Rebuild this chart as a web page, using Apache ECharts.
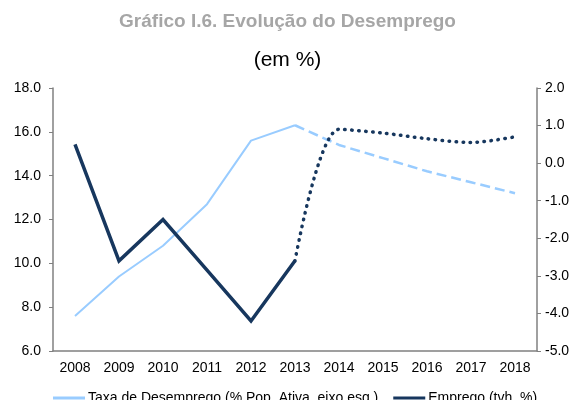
<!DOCTYPE html>
<html>
<head>
<meta charset="utf-8">
<script src="https://cdn.jsdelivr.net/npm/echarts@6/dist/echarts.min.js"></script>
<style>
  html, body { margin: 0; padding: 0; background: #fff; }
  #chart { width: 575px; height: 400px; }
</style>
</head>
<body>
<div id="chart"></div>
<script>
// anos
const years = ["2008", "2009", "2010", "2011", "2012", "2013", "2014", "2015", "2016", "2017", "2018"];
// taxa de desemprego (% pop. ativa), observado e projeção
const taxaObs = [7.6, 9.4, 10.8, 12.7, 15.6, 16.3, null, null, null, null, null];
const taxaProj = [null, null, null, null, null, 16.3, 15.4, 14.8, 14.2, 13.7, 13.2];
// emprego (tvh, %), observado e projeção
const empregoObs = [0.5, -2.6, -1.5, -2.85, -4.2, -2.6, null, null, null, null, null];
const empregoProj = [null, null, null, null, null, -2.6, 0.9, 0.8, 0.65, 0.55, 0.7];

const nomeTaxa = "Taxa de Desemprego (% Pop. Ativa, eixo esq.)";
const nomeEmprego = "Emprego (tvh, %)";
const lightBlue = "#99CCFF";
const navy = "#17375E";
const font = "Liberation Sans, Arial, sans-serif";

const chart = echarts.init(document.getElementById("chart"), null, { renderer: "canvas" });
chart.setOption({
  animation: false,
  textStyle: { fontFamily: font },
  title: [
    {
      text: "Gráfico I.6. Evolução do Desemprego",
      left: "center",
      top: 7,
      textStyle: { fontFamily: font, fontSize: 19, fontWeight: "bold", color: "#A6A6A6" },
    },
    {
      text: "(em %)",
      left: "center",
      top: 45,
      textStyle: { fontFamily: font, fontSize: 21, fontWeight: "normal", color: "#000" },
    },
  ],
  grid: { left: 53, right: 38, top: 88, bottom: 49 },
  legend: {
    data: [nomeTaxa, nomeEmprego],
    left: 53,
    top: 391,
    padding: 0,
    icon: "rect",
    itemWidth: 32,
    itemHeight: 3,
    itemGap: 15,
    textStyle: { fontFamily: font, fontSize: 14, color: "#000", padding: [0, 0, 0, -2] },
  },
  xAxis: {
    type: "category",
    data: years,
    boundaryGap: true,
    axisLine: { onZero: false, lineStyle: { color: "#808080", width: 1.5 } },
    axisTick: { show: false },
    axisLabel: { color: "#000", fontSize: 14, fontFamily: font, margin: 10 },
  },
  yAxis: [
    {
      type: "value",
      min: 6,
      max: 18,
      interval: 2,
      position: "left",
      axisLine: { show: true, lineStyle: { color: "#808080", width: 1.5 } },
      axisTick: { show: true, length: 4, lineStyle: { color: "#808080" } },
      splitLine: { show: false },
      axisLabel: {
        color: "#000",
        fontSize: 14,
        fontFamily: font,
        margin: 12,
        formatter: (v) => v.toFixed(1),
      },
    },
    {
      type: "value",
      min: -5,
      max: 2,
      interval: 1,
      position: "right",
      axisLine: { show: true, lineStyle: { color: "#808080", width: 1.5 } },
      axisTick: { show: true, length: 4, lineStyle: { color: "#808080" } },
      splitLine: { show: false },
      axisLabel: {
        color: "#000",
        fontSize: 14,
        fontFamily: font,
        margin: 8,
        formatter: (v) => v.toFixed(1),
      },
    },
  ],
  series: [
    {
      name: nomeTaxa,
      type: "line",
      yAxisIndex: 0,
      data: taxaObs,
      showSymbol: false,
      symbol: "none",
      itemStyle: { color: lightBlue },
      lineStyle: { color: lightBlue, width: 2 },
    },
    {
      name: nomeTaxa + " proj",
      type: "line",
      yAxisIndex: 0,
      data: taxaProj,
      showSymbol: false,
      symbol: "none",
      itemStyle: { color: lightBlue },
      lineStyle: { color: lightBlue, width: 2.5, type: [10, 5] },
    },
    {
      name: nomeEmprego,
      type: "line",
      yAxisIndex: 1,
      data: empregoObs,
      showSymbol: false,
      symbol: "none",
      itemStyle: { color: navy },
      lineStyle: { color: navy, width: 3.5, join: "miter" },
    },
    {
      name: nomeEmprego + " proj",
      type: "line",
      yAxisIndex: 1,
      data: empregoProj,
      smooth: 0.3,
      showSymbol: false,
      symbol: "none",
      itemStyle: { color: navy },
      lineStyle: { color: navy, width: 3.5, type: [0.5, 6.5], cap: "round" },
    },
  ],
});
</script>
</body>
</html>
